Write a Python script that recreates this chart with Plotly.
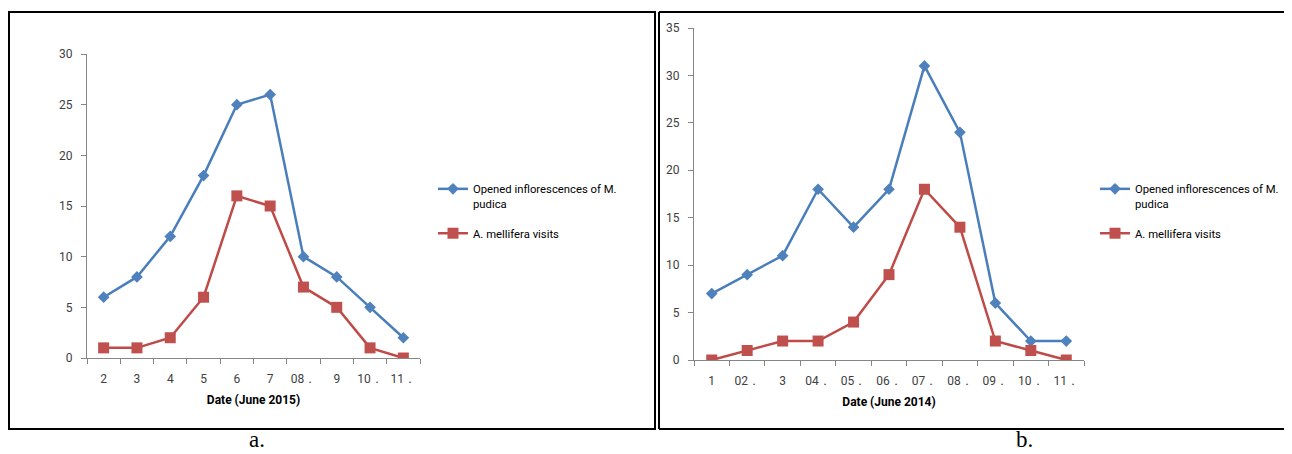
import plotly.graph_objects as go

# page body adds an 8px offset; figure is sized to fit the window
OFF = 8
W, H = 1292 - OFF, 454 - OFF

# Panel a (June 2015)
cats_a = ["2", "3", "4", "5", "6", "7", "08．", "9", "10．", "11．"]
opened_a = [6, 8, 12, 18, 25, 26, 10, 8, 5, 2]
visits_a = [1, 1, 2, 6, 16, 15, 7, 5, 1, 0]

# Panel b (June 2014)
cats_b = ["1", "02．", "3", "04．", "05．", "06．", "07．", "08．", "09．", "10．", "11．"]
opened_b = [7, 9, 11, 18, 14, 18, 31, 24, 6, 2, 2]
visits_b = [0, 1, 2, 2, 4, 9, 18, 14, 2, 1, 0]

name_opened = "Opened inflorescences of M.<br>pudica"
name_visits = "A. mellifera visits"

BLUE_L, BLUE_M = "#4A7EBB", "#4F81BD"
RED_L, RED_M = "#BE4B48", "#C0504D"
FONT = "Roboto, sans-serif"

def px_x(p):
    return (p - OFF) / W

def px_y(p):
    return 1 - (p - OFF) / H

fig = go.Figure()

def add_pair(cats, opened, visits, xa, ya, legend):
    fig.add_trace(go.Scatter(x=cats, y=opened, name=name_opened, mode="lines+markers",
                             line=dict(color=BLUE_L, width=2.5),
                             marker=dict(symbol="diamond", size=9, color=BLUE_M),
                             xaxis=xa, yaxis=ya, legend=legend, legendgroup=xa + "o"))
    fig.add_trace(go.Scatter(x=cats, y=visits, name=name_visits, mode="lines+markers",
                             line=dict(color=RED_L, width=2.5),
                             marker=dict(symbol="square", size=11, color=RED_M),
                             xaxis=xa, yaxis=ya, legend=legend, legendgroup=xa + "v"))

add_pair(cats_a, opened_a, visits_a, "x", "y", "legend")
add_pair(cats_b, opened_b, visits_b, "x2", "y2", "legend2")

xcommon = dict(type="category", showline=True, linecolor="#868686", linewidth=1,
               ticks="outside", tickson="boundaries", ticklen=5, tickcolor="#868686",
               showgrid=False, zeroline=False, automargin=False, tickangle=0,
               ticklabelstandoff=10,
               tickfont=dict(family=FONT, size=12, color="#404040"))
ycommon = dict(showline=True, linecolor="#868686", linewidth=1, ticks="outside",
               ticklen=5, tickcolor="#868686", showgrid=False, zeroline=False, dtick=5,
               automargin=False, ticklabelstandoff=6,
               tickfont=dict(family=FONT, size=12, color="#404040"))

title_font = dict(family=FONT, size=12, color="#000000", weight="bold")
leg_font = dict(family=FONT, size=11.3, color="#000000")

fig.update_layout(
    width=W, height=H, margin=dict(l=0, r=0, t=0, b=0, autoexpand=False),
    paper_bgcolor="white", plot_bgcolor="white",
    showlegend=True,
    xaxis=dict(xcommon, domain=[px_x(87), px_x(420)], range=[-0.5, len(cats_a) - 0.5],
               anchor="y", title=dict(text="Date (June 2015)", font=title_font, standoff=10)),
    yaxis=dict(ycommon, domain=[px_y(358), px_y(54)], range=[0, 30], anchor="x"),
    xaxis2=dict(xcommon, domain=[px_x(694), px_x(1084)], range=[-0.5, len(cats_b) - 0.5],
                anchor="y2", title=dict(text="Date (June 2014)", font=title_font, standoff=10)),
    yaxis2=dict(ycommon, domain=[px_y(360), px_y(28)], range=[0, 35], anchor="x2"),
    legend=dict(x=px_x(433), y=px_y(175), xanchor="left", yanchor="top", valign="top",
                font=leg_font, bgcolor="rgba(0,0,0,0)", tracegroupgap=12),
    legend2=dict(x=px_x(1095), y=px_y(175), xanchor="left", yanchor="top", valign="top",
                 font=leg_font, bgcolor="rgba(0,0,0,0)", tracegroupgap=12),
)

# panel a border
fig.add_shape(type="rect", xref="paper", yref="paper",
              x0=px_x(9), x1=px_x(655), y0=px_y(429), y1=px_y(12),
              line=dict(color="black", width=2))
# panel b border: top, left and bottom only (right edge lies beyond the picture)
for (xa0, ya0, xa1, ya1) in ((659, 12, 1292, 12), (659, 12, 659, 429), (659, 429, 1292, 429)):
    fig.add_shape(type="line", xref="paper", yref="paper",
                  x0=px_x(xa0), y0=px_y(ya0), x1=px_x(xa1), y1=px_y(ya1),
                  line=dict(color="black", width=2))

# captions
for txt, xp in (("a.", 257), ("b.", 1025)):
    fig.add_annotation(text=txt, xref="paper", yref="paper", x=px_x(xp), y=px_y(453.5),
                       showarrow=False, xanchor="center", yanchor="bottom",
                       font=dict(family="Liberation Serif, serif", size=23, color="black"))

fig.write_html("out.html")
